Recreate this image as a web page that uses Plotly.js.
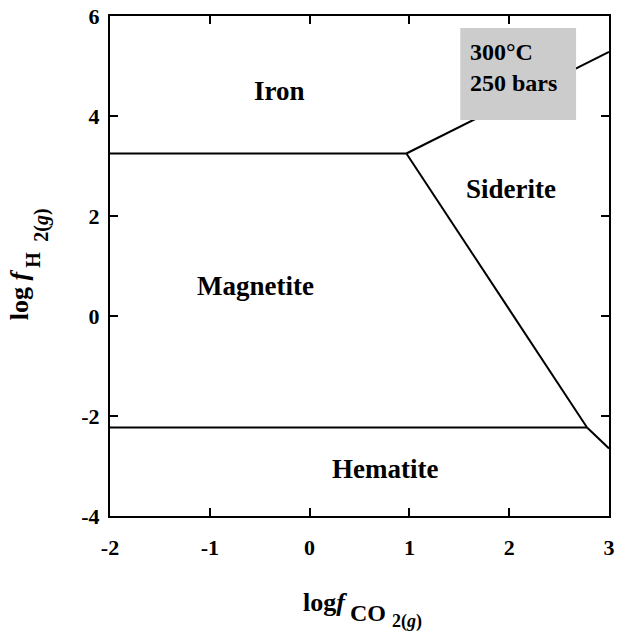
<!DOCTYPE html>
<html><head><meta charset="utf-8">
<script src="https://cdn.plot.ly/plotly-3.0.1.min.js"></script>
<style>body{margin:0;background:#fff}#c{width:618px;height:635px}</style>
</head><body><div id="c"></div>
<script>
// Phase boundaries (log fCO2, log fH2)
var ironMagX = [-2, 0.97];
var ironMagY = [3.25, 3.25];
var ironSidX = [0.97, 3.0];
var ironSidY = [3.25, 5.28];
var magSidX = [0.97, 2.78];
var magSidY = [3.25, -2.23];
var hemMagX = [-2, 2.78];
var hemMagY = [-2.23, -2.23];
var hemSidX = [2.78, 3.0];
var hemSidY = [-2.23, -2.65];

var fieldNames = ["Iron", "Siderite", "Magnetite", "Hematite"];
var fieldX = [-0.3, 2.02, -0.54, 0.76];
var fieldY = [4.5, 2.55, 0.6, -3.05];

var xTicks = [-2, -1, 0, 1, 2, 3];
var yTicks = [-4, -2, 0, 2, 4, 6];

var lineStyle = {color: "#000", width: 2};
function seg(x, y) { return {x: x, y: y, mode: "lines", line: lineStyle, hoverinfo: "skip", showlegend: false}; }
var traces = [seg(ironMagX, ironMagY), seg(ironSidX, ironSidY), seg(magSidX, magSidY), seg(hemMagX, hemMagY), seg(hemSidX, hemSidY)];

var fam = "Liberation Serif, Times New Roman, serif";
function f(size) { return {family: fam, color: "#000", size: size}; }

var annotations = fieldNames.map(function (n, i) {
  return {x: fieldX[i], y: fieldY[i], text: "<b>" + n + "</b>", showarrow: false, font: f(27)};
});
annotations.push({xref: "paper", yref: "paper", x: 0.718, y: 0.958, xanchor: "left", yanchor: "top",
  text: "<b>300°C<br>250 bars</b>", align: "left", showarrow: false, font: f(24)});

// axis titles, built in pieces so the double subscript sits lower
function piece(text, x, y, size, xa, angle) {
  return {xref: "paper", yref: "paper", x: x, y: y, xanchor: xa, yanchor: "middle", text: text,
    showarrow: false, font: f(size), textangle: angle || 0};
}
annotations.push(piece("<b>log<i>f</i></b>", 0.382, -0.172, 26, "left"));
annotations.push(piece("<b>CO</b>", 0.476, -0.194, 24, "left"));
annotations.push(piece("<b>2(<i>g</i>)</b>", 0.562, -0.211, 18, "left"));
annotations.push(piece("<b>log <i>f</i></b>", -0.182, 0.442, 26, "center", -90));
annotations.push(piece("<b>H</b>", -0.155, 0.512, 20, "center", -90));
annotations.push(piece("<b>2(<i>g</i>)</b>", -0.139, 0.582, 20, "center", -90));

var axisCommon = {showgrid: false, zeroline: false, showline: true, linecolor: "#000", linewidth: 2,
  mirror: "ticks", ticks: "inside", ticklen: 8, tickwidth: 2, tickcolor: "#000", tickfont: f(22)};

var layout = {
  width: 618, height: 635,
  margin: {l: 110, r: 9, t: 16, b: 119},
  paper_bgcolor: "#fff", plot_bgcolor: "#fff",
  xaxis: Object.assign({}, axisCommon, {range: [-2, 3], tickvals: xTicks,
    ticktext: xTicks.map(function (v) { return "<b>" + v + "</b>"; }), ticklabelstandoff: 11}),
  yaxis: Object.assign({}, axisCommon, {range: [-4, 6], tickvals: yTicks,
    ticktext: yTicks.map(function (v) { return "<b>" + v + "</b>"; }), ticklabelstandoff: 4}),
  shapes: [{type: "rect", xref: "x", yref: "y", x0: 1.51, x1: 2.67, y0: 3.92, y1: 5.76,
    fillcolor: "#cccccc", line: {width: 0}, layer: "above"}],
  annotations: annotations
};
Plotly.newPlot("c", traces, layout, {displayModeBar: false, staticPlot: true});
</script></body></html>
